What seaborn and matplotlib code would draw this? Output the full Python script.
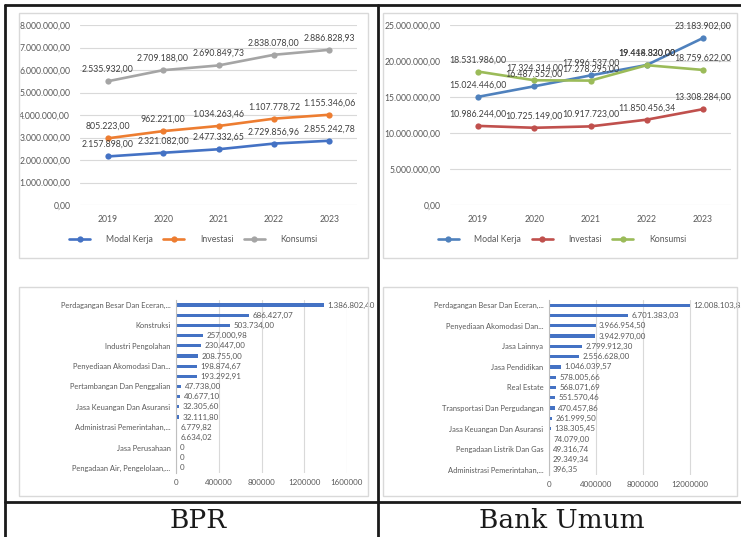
import numpy as np
import pandas as pd
import matplotlib
matplotlib.use("Agg")
import matplotlib.pyplot as plt
from matplotlib.patches import Rectangle
from matplotlib.lines import Line2D
import seaborn as sns

# ---------------- data ----------------
tahun = [2019, 2020, 2021, 2022, 2023]
jenis = ["Modal Kerja", "Investasi", "Konsumsi"]

bpr_modal_kerja = [2157898.00, 2321082.00, 2477332.65, 2729856.96, 2855242.78]
bpr_investasi = [805223.00, 962221.00, 1034263.46, 1107778.72, 1155346.06]
bpr_konsumsi = [2535932.00, 2709188.00, 2690849.73, 2838078.00, 2886828.93]

bu_modal_kerja = [15024446.00, 16487552.00, 17996537.00, 19444830.00, 23183902.00]
bu_investasi = [10986244.00, 10725149.00, 10917723.00, 11850456.34, 13308284.00]
bu_konsumsi = [18531986.00, 17324314.00, 17278295.00, 19418320.00, 18759622.00]

sektor_bpr_label = [
    "Perdagangan Besar Dan Eceran,...", "", "Konstruksi", "",
    "Industri Pengolahan", "", "Penyediaan Akomodasi Dan...", "",
    "Pertambangan Dan Penggalian", "", "Jasa Keuangan Dan Asuransi", "",
    "Administrasi Pemerintahan,...", "", "Jasa Perusahaan", "",
    "Pengadaan Air, Pengelolaan,...",
]
sektor_bpr_nilai = [
    1386802.40, 686427.07, 503734.00, 257000.98, 230447.00, 208755.00,
    198874.67, 193292.91, 47738.00, 40677.10, 32305.60, 32111.80,
    6779.82, 6634.02, 0, 0, 0,
]

sektor_bu_label = [
    "Perdagangan Besar Dan Eceran,...", "", "Penyediaan Akomodasi Dan...", "",
    "Jasa Lainnya", "", "Jasa Pendidikan", "",
    "Real Estate", "", "Transportasi Dan Pergudangan", "",
    "Jasa Keuangan Dan Asuransi", "", "Pengadaan Listrik Dan Gas", "",
    "Administrasi Pemerintahan,...",
]
sektor_bu_nilai = [
    12008103.85, 6701383.03, 3966954.50, 3942970.00, 2799912.30, 2556628.00,
    1046039.57, 578005.66, 568071.69, 551570.46, 470457.86, 261999.50,
    138305.45, 74079.00, 49316.74, 29349.34, 396.35,
]

# ---------------- style ----------------
sns.set_theme(style="white")
plt.rcParams["font.family"] = ["Lato", "DejaVu Sans"]
TXT = "#595959"
GRID = "#D9D9D9"

W, H = 741, 537
fig = plt.figure(figsize=(W / 100, H / 100), dpi=100)
fig.patch.set_facecolor("white")


def box(x0, y0, x1, y1):
    return [x0 / W, 1 - y1 / H, (x1 - x0) / W, (y1 - y0) / H]


def rupiah(v, zero="0"):
    if v == 0:
        return zero
    s = f"{v:,.2f}"
    return s.replace(",", "#").replace(".", ",").replace("#", ".")


def frame(x0, y0, x1, y1):
    fig.add_artist(Rectangle((x0 / W, 1 - y1 / H), (x1 - x0) / W, (y1 - y0) / H,
                             transform=fig.transFigure, fill=False,
                             edgecolor=GRID, linewidth=1.0))


def line_chart(ax, series, colors, stacked, ymax, ystep, legend_x):
    values = np.array(series)
    plotted = np.cumsum(values, axis=0) if stacked else values
    rows = []
    for i, nama in enumerate(jenis):
        for j, t in enumerate(tahun):
            rows.append({"Tahun": t, "Jenis": nama, "Posisi": plotted[i][j]})
    df = pd.DataFrame(rows)
    sns.lineplot(data=df, x="Tahun", y="Posisi", hue="Jenis", hue_order=jenis,
                 palette=colors, marker="o", markersize=4.5, markeredgewidth=0,
                 linewidth=1.9, ax=ax, legend=False)
    for i in range(len(jenis)):
        for j, t in enumerate(tahun):
            ax.annotate(rupiah(values[i][j]), (t, plotted[i][j]), xytext=(0, 8.5),
                        textcoords="offset points", ha="center", va="center",
                        fontsize=6.3, color="#404040")
    ax.set_xlim(2018.5, 2023.5)
    ax.set_ylim(0, ymax)
    yt = np.arange(0, ymax + 1, ystep)
    ax.set_yticks(yt)
    ax.set_yticklabels([rupiah(v, "0,00") for v in yt], fontsize=6.2, color=TXT)
    ax.set_xticks(tahun)
    ax.set_xticklabels([str(t) for t in tahun], fontsize=6.2, color=TXT)
    ax.set_xlabel("")
    ax.set_ylabel("")
    ax.yaxis.grid(True, color=GRID, linewidth=0.8)
    ax.xaxis.grid(False)
    for s in ax.spines.values():
        s.set_visible(False)
    ax.tick_params(length=0, pad=7)
    handles = [Line2D([0], [0], color=c, marker="o", markersize=4.5,
                      markeredgewidth=0, linewidth=1.9) for c in colors]
    fig.legend(handles, jenis, loc="center", bbox_to_anchor=(legend_x / W, 1 - 240 / H),
               ncol=3, frameon=False, fontsize=6.3, handlelength=2.4,
               handletextpad=1.8, columnspacing=1.2, labelcolor=TXT)


def bar_chart(ax, labels, values, xmax, xticks):
    df = pd.DataFrame({"Urutan": list(range(len(values))), "Nilai": values})
    sns.barplot(data=df, x="Nilai", y="Urutan", orient="y", color="#4472C4",
                saturation=1, width=0.32, linewidth=0, ax=ax)
    for p in ax.patches:
        p.set_snap(True)
        p.set_antialiased(False)
    ax.set_yticks(range(len(labels)))
    ax.set_yticklabels(labels, fontsize=5.4, color=TXT)
    for i, v in enumerate(values):
        ax.annotate(rupiah(v), (v, i), xytext=(2.5, 0), textcoords="offset points",
                    ha="left", va="center", fontsize=5.8, color=TXT,
                    annotation_clip=False)
    ax.set_xlim(0, xmax)
    ax.set_xticks(xticks)
    ax.set_xticklabels([str(int(t)) for t in xticks], fontsize=5.8, color=TXT)
    ax.set_xlabel("")
    ax.set_ylabel("")
    ax.xaxis.grid(True, color=GRID, linewidth=0.8)
    ax.yaxis.grid(False)
    for name, s in ax.spines.items():
        s.set_visible(name == "left")
    ax.spines["left"].set_color("#BFBFBF")
    ax.spines["left"].set_linewidth(0.8)
    ax.tick_params(length=0, pad=4)


# chart frames
frame(19, 13, 368, 258)
frame(383, 13, 737, 258)
frame(19, 287, 368, 496)
frame(383, 287, 737, 496)

# BPR lines (stacked)
ax1 = fig.add_axes(box(80, 25, 357, 205))
line_chart(ax1, [bpr_modal_kerja, bpr_investasi, bpr_konsumsi],
           ["#4472C4", "#ED7D31", "#A5A5A5"], True, 8_000_000, 1_000_000, 193.5)

# Bank Umum lines
ax2 = fig.add_axes(box(450, 25, 731, 205))
line_chart(ax2, [bu_modal_kerja, bu_investasi, bu_konsumsi],
           ["#4F81BD", "#C0504D", "#9BBB59"], False, 25_000_000, 5_000_000, 562)

# sector bars
ax3 = fig.add_axes(box(176, 300, 347, 473))
bar_chart(ax3, sektor_bpr_label, sektor_bpr_nilai, 1_600_000,
          [0, 400000, 800000, 1200000, 1600000])

ax4 = fig.add_axes(box(549, 300, 737, 475))
bar_chart(ax4, sektor_bu_label, sektor_bu_nilai, 16_000_000,
          [0, 4000000, 8000000, 12000000])

# table rules
for (x0, y0, x1, y1) in [(5, 5, 741, 5), (5, 5, 5, 537), (378, 5, 378, 537),
                         (5, 502, 741, 502)]:
    fig.add_artist(Line2D([x0 / W, x1 / W], [1 - y0 / H, 1 - y1 / H],
                          transform=fig.transFigure, color="#1a1a1a", linewidth=2))

# captions
fig.text(198 / W, 1 - 521 / H, "BPR", ha="center", va="center",
         family="DejaVu Serif", fontsize=19, color="#1a1a1a")
fig.text(562 / W, 1 - 521 / H, "Bank Umum", ha="center", va="center",
         family="DejaVu Serif", fontsize=19, color="#1a1a1a")

fig.savefig("out.png", dpi=100, facecolor="white")
